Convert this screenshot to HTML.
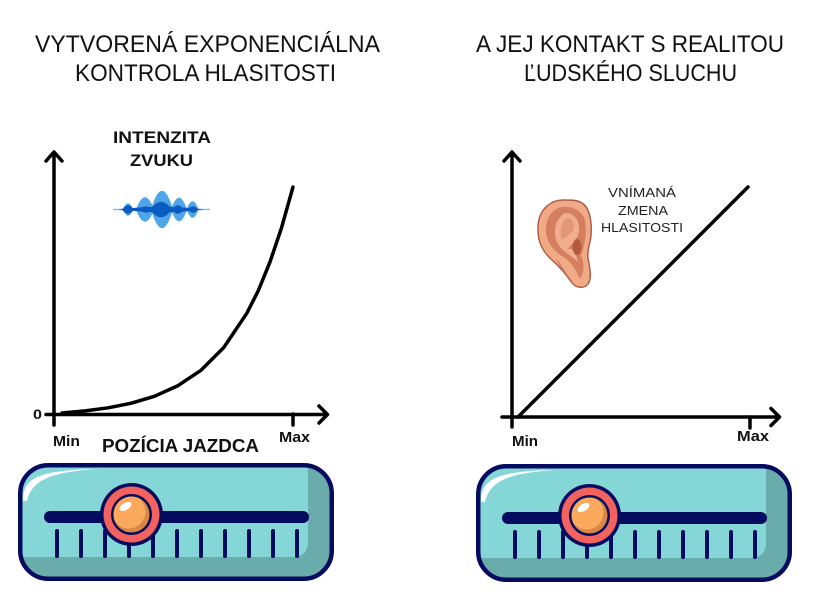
<!DOCTYPE html>
<html><head><meta charset="utf-8"><style>
html,body{margin:0;padding:0;background:#fff;}
svg{display:block;}
text{font-family:"Liberation Sans",Arial,sans-serif;}
</style></head><body>
<svg width="824" height="598" viewBox="0 0 824 598" xmlns="http://www.w3.org/2000/svg">
<defs>
  <clipPath id="sc"><rect x="2.25" y="2.25" width="311.5" height="113.5" rx="28"/></clipPath>
  <clipPath id="ball"><circle cx="0" cy="0" r="18"/></clipPath>
  <g id="slider">
    <rect x="2.25" y="2.25" width="311.5" height="113.5" rx="28" fill="#6aabab"/>
    <g clip-path="url(#sc)">
      <path d="M0,0 L290,0 L290,78 Q290,94 274,94 L0,94 Z" fill="#85d7d7"/>
      <path d="M5,38 C5,16 18,7 80,6 C32,9 14,17 9,38 Z" fill="#ffffff"/>
    </g>
    <rect x="2.25" y="2.25" width="311.5" height="113.5" rx="28" fill="none" stroke="#050b5f" stroke-width="4.5"/>
    <line x1="32" y1="54" x2="285" y2="54" stroke="#050b5f" stroke-width="12" stroke-linecap="round"/>
    <g stroke="#050b5f" stroke-width="4" stroke-linecap="round">
      <line x1="39" y1="68" x2="39" y2="93"/>
      <line x1="63" y1="68" x2="63" y2="93"/>
      <line x1="87" y1="68" x2="87" y2="93"/>
      <line x1="111" y1="68" x2="111" y2="93"/>
      <line x1="135" y1="68" x2="135" y2="93"/>
      <line x1="159" y1="68" x2="159" y2="93"/>
      <line x1="183" y1="68" x2="183" y2="93"/>
      <line x1="207" y1="68" x2="207" y2="93"/>
      <line x1="231" y1="68" x2="231" y2="93"/>
      <line x1="255" y1="68" x2="255" y2="93"/>
      <line x1="279" y1="68" x2="279" y2="93"/>
    </g>
    <g transform="translate(113.5,51.5)">
      <circle r="31.5" fill="#050b5f"/>
      <circle r="28" fill="#f2635f"/>
      <circle r="20.5" fill="#050b5f"/>
      <circle r="18" fill="#d98945"/>
      <g clip-path="url(#ball)">
        <circle cx="-3" cy="-3" r="17" fill="#fba95c"/>
      </g>
      <ellipse cx="-6" cy="-8" rx="6.5" ry="3.5" transform="rotate(-32 -6 -8)" fill="#ffffff"/>
    </g>
  </g>
</defs>

<!-- Titles -->
<g fill="#111">
  <text x="35" y="52" font-size="24" textLength="345" lengthAdjust="spacingAndGlyphs">VYTVORENÁ EXPONENCIÁLNA</text>
  <text x="75" y="81" font-size="24" textLength="261" lengthAdjust="spacingAndGlyphs">KONTROLA HLASITOSTI</text>
  <text x="476" y="52" font-size="24" textLength="308" lengthAdjust="spacingAndGlyphs">A JEJ KONTAKT S REALITOU</text>
  <text x="524" y="81" font-size="24" textLength="213" lengthAdjust="spacingAndGlyphs">ĽUDSKÉHO SLUCHU</text>
</g>

<!-- Left chart -->
<g stroke="#000" stroke-width="3.5" fill="none" stroke-linecap="round" stroke-linejoin="round">
  <line x1="54" y1="153" x2="54" y2="425"/>
  <line x1="46" y1="414.5" x2="327" y2="414.5"/>
  <polyline points="46,161 54,152 62,161"/>
  <polyline points="319,406 327.5,414.5 319,423"/>
  <line x1="293" y1="414" x2="293" y2="425"/>
  <polyline points="62,413 85.1,410.9 108.2,407.8 131.3,403.2 154.4,396.3 177.5,385.9 200.6,370.6 223.7,347.6 246.8,313.3 258.4,290.4 269.9,262.2 281.5,227.9 293,187"/>
</g>
<g font-weight="bold" fill="#111">
  <text x="113" y="143" font-size="17" textLength="98" lengthAdjust="spacingAndGlyphs">INTENZITA</text>
  <text x="130" y="166" font-size="17" textLength="63" lengthAdjust="spacingAndGlyphs">ZVUKU</text>
  <text x="33" y="419" font-size="14" textLength="9" lengthAdjust="spacingAndGlyphs">0</text>
  <text x="53" y="446" font-size="15" textLength="27" lengthAdjust="spacingAndGlyphs">Min</text>
  <text x="279" y="442" font-size="15" textLength="31" lengthAdjust="spacingAndGlyphs">Max</text>
  <text x="102" y="452" font-size="18.5" textLength="157" lengthAdjust="spacingAndGlyphs">POZÍCIA JAZDCA</text>
</g>

<!-- Sound wave -->
<g>
  <line x1="113" y1="209.5" x2="210" y2="209.5" stroke="#4aa8ec" stroke-width="1.5" opacity="0.7"/>
  <g fill="#3f9fe8" opacity="0.92">
    <path d="M136,209.5 Q145,185 154,209.5 Q145,234 136,209.5 Z"/>
    <path d="M151,209.5 Q162,172 173,209.5 Q162,247 151,209.5 Z"/>
    <path d="M171,209.5 Q179,186 187,209.5 Q179,233 171,209.5 Z"/>
    <path d="M186.5,209.5 Q192.5,193 198.5,209.5 Q192.5,226 186.5,209.5 Z"/>
    <path d="M123,209.5 Q128,197 133,209.5 Q128,222 123,209.5 Z"/>
  </g>
  <g fill="#0b5cc0">
    <path d="M118,209.5 Q161,204 204,209.5 Q161,215 118,209.5 Z"/>
    <path d="M122,209.5 Q128,201 134,209.5 Q128,218 122,209.5 Z"/>
    <path d="M150,209.5 Q161,194 172,209.5 Q161,225 150,209.5 Z"/>
    <path d="M140,209.5 Q146,203 152,209.5 Q146,216 140,209.5 Z"/>
    <path d="M172,209.5 Q178,201 184,209.5 Q178,218 172,209.5 Z"/>
    <path d="M188,209.5 Q193,203 198,209.5 Q193,216 188,209.5 Z"/>
  </g>
</g>

<!-- Right chart -->
<g stroke="#000" stroke-width="3.5" fill="none" stroke-linecap="round" stroke-linejoin="round">
  <line x1="512" y1="153" x2="512" y2="427"/>
  <line x1="502" y1="417" x2="779" y2="417"/>
  <polyline points="504,161 512,152 520,161"/>
  <polyline points="771,408.5 779.5,417 771,425.5"/>
  <line x1="750" y1="417" x2="750" y2="428"/>
  <line x1="518" y1="417" x2="748" y2="187"/>
</g>
<g font-weight="bold" fill="#111">
  <text x="512" y="446" font-size="15" textLength="26" lengthAdjust="spacingAndGlyphs">Min</text>
  <text x="737" y="441" font-size="15" textLength="32" lengthAdjust="spacingAndGlyphs">Max</text>
</g>
<g fill="#222" font-size="13">
  <text x="608" y="197" textLength="68" lengthAdjust="spacingAndGlyphs">VNÍMANÁ</text>
  <text x="618" y="215" textLength="50" lengthAdjust="spacingAndGlyphs">ZMENA</text>
  <text x="601" y="232" textLength="82" lengthAdjust="spacingAndGlyphs">HLASITOSTI</text>
</g>

<!-- Ear -->
<g>
  <path d="M566,200 C552,199 539,208 538,226 C537,242 543,252 552,260 C560,267 566,274 572,283 C576,288 584,289 588,284 C592,278 590,268 588,258 C587,250 590,244 591,236 C592,222 590,208 582,203 C577,200 571,200 566,200 Z" fill="#f0aa88" stroke="#a9583e" stroke-width="1.4"/>
  <path d="M563,207 C552,208 545,219 546,232 C547,244 555,252 565,258 C571,262 576,270 580,279 C585,272 584,262 581,255 C585,245 587,232 585,220 C582,211 573,206 563,207 Z" fill="#d47f60"/>
  <path d="M565,213 C575,213 580,221 579,231 C578,240 571,244 567,250 C572,246 576,252 578,262 C572,256 563,252 558,244 C553,236 553,220 565,213 Z" fill="#f0ae8f"/>
  <path d="M567,218 C561,222 559,232 562,240 C566,236 572,234 574,228 C574,222 571,218 567,218 Z" fill="#e0977a"/>
  <ellipse cx="577" cy="247" rx="4.5" ry="8" fill="#b25a3e"/>
  <path d="M556,258 C562,266 566,274 572,281 C566,275 560,268 556,258 Z" fill="#c97558"/>
</g>

<!-- Sliders -->
<use href="#slider" x="18" y="463"/>
<use href="#slider" x="476" y="464"/>
</svg>
</body></html>
